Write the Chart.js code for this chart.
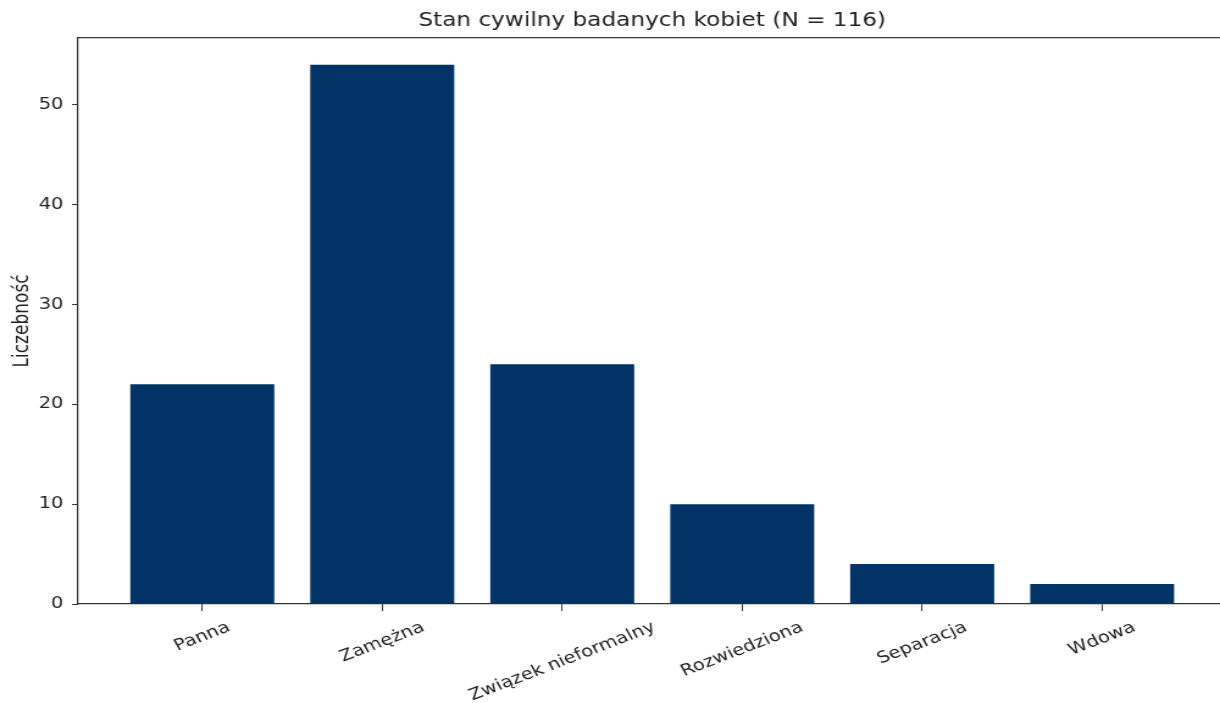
<!DOCTYPE html>
<html lang="pl">
<head>
  <meta charset="UTF-8">
  <title>Stan cywilny badanych kobiet</title>
  <script src="https://cdn.jsdelivr.net/npm/chart.js@4.4.0/dist/chart.umd.min.js"></script>
  <style>
    html, body { margin: 0; padding: 0; background: #fff; overflow: hidden; }
    #wrap { width: 1220px; height: 703px; overflow: hidden; }
    /* the reference image is stretched sideways, so draw narrow and scale it out */
    #chart { transform: scaleX(1.22); transform-origin: 0 0; }
  </style>
</head>
<body>
  <div id="wrap"><canvas id="chart" width="1010" height="703"></canvas></div>
  <script>
    // data
    const categories = ['Panna', 'Zamężna', 'Związek nieformalny', 'Rozwiedziona', 'Separacja', 'Wdowa'];
    const counts = [22, 54, 24, 10, 4, 2];
    const yTicks = [0, 10, 20, 30, 40, 50];
    const titleText = 'Stan cywilny badanych kobiet (N = 116)';
    const yLabel = 'Liczebność';

    const barColor = '#023366';
    const axisColor = '#333333';
    const textColor = '#222222';

    // rotated category labels, centred on each tick like matplotlib does
    const xLabels = {
      id: 'xLabels',
      afterDraw(chart) {
        const ctx = chart.ctx;
        const x = chart.scales.x;
        const ang = 25 * Math.PI / 180;
        const fs = 16;
        ctx.save();
        ctx.font = fs + 'px "DejaVu Sans"';
        ctx.fillStyle = textColor;
        ctx.textAlign = 'center';
        ctx.textBaseline = 'middle';
        categories.forEach((c, i) => {
          const w = ctx.measureText(c).width;
          const h = fs * 1.17;
          const H = w * Math.sin(ang) + h * Math.cos(ang);
          const px = x.getPixelForValue(i);
          const top = x.top + 14;
          ctx.save();
          ctx.translate(px, top + H / 2);
          ctx.rotate(-ang);
          ctx.fillText(c, 0, 0);
          ctx.restore();
        });
        // y axis title
        const a = chart.chartArea;
        ctx.translate(18.5, (a.top + a.bottom) / 2);
        ctx.rotate(-Math.PI / 2);
        ctx.font = '17px "DejaVu Sans"';
        ctx.fillText(yLabel, 0, 0);
        ctx.restore();
      }
    };

    new Chart(document.getElementById('chart'), {
      type: 'bar',
      data: {
        datasets: [{
          data: counts.map((v, i) => ({ x: i, y: v })),
          backgroundColor: barColor,
          borderWidth: 0,
          barPercentage: 0.8,
          categoryPercentage: 1.0
        }]
      },
      options: {
        responsive: false,
        devicePixelRatio: 1,
        animation: false,
        layout: { padding: { left: 0, right: 4.8, top: 0, bottom: 0 } },
        plugins: {
          legend: { display: false },
          tooltip: { enabled: false },
          title: {
            display: true,
            text: titleText,
            fullSize: false,
            color: textColor,
            font: { family: 'DejaVu Sans', size: 19, weight: 'normal', lineHeight: 1.2 },
            padding: { top: 10, bottom: 5 }
          }
        },
        scales: {
          x: {
            type: 'linear',
            min: -0.69,
            max: 5.69,
            offset: false,
            afterBuildTicks: s => { s.ticks = categories.map((c, i) => ({ value: i })); },
            afterFit: s => { s.height = 99; },
            ticks: { display: false },
            grid: { offset: false, drawOnChartArea: false, drawTicks: true, tickLength: 7, color: axisColor },
            border: { display: true, color: axisColor, width: 1.2 }
          },
          xTop: {
            type: 'linear',
            position: 'top',
            min: -0.69,
            max: 5.69,
            offset: false,
            afterFit: s => { s.height = 0; },
            ticks: { display: false },
            grid: { display: false, drawTicks: false },
            border: { display: true, color: axisColor, width: 1.2 }
          },
          y: {
            min: 0,
            max: 56.7,
            afterBuildTicks: s => { s.ticks = yTicks.map(v => ({ value: v })); },
            afterFit: s => { s.width = 64; },
            ticks: {
              color: textColor,
              padding: 7,
              font: { family: 'DejaVu Sans', size: 16 }
            },
            grid: { drawOnChartArea: false, drawTicks: true, tickLength: 5, color: axisColor },
            border: { display: true, color: axisColor, width: 1.2 }
          }
        }
      },
      plugins: [xLabels]
    });
  </script>
</body>
</html>
